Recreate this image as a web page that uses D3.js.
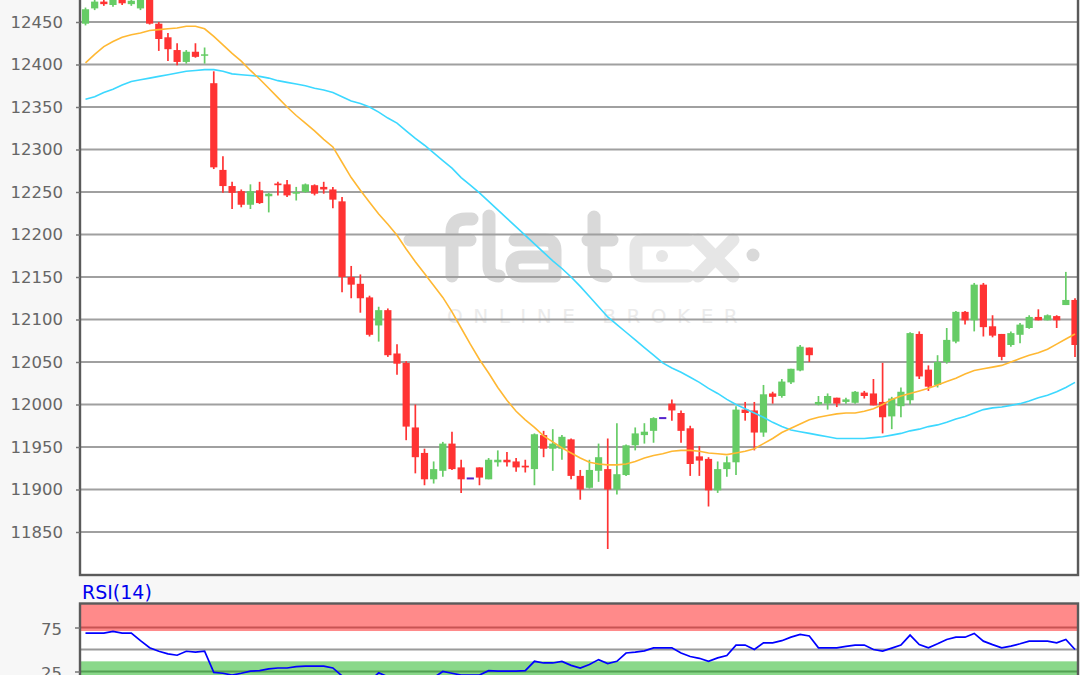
<!DOCTYPE html>
<html><head><meta charset="utf-8">
<script src="https://cdn.jsdelivr.net/npm/d3@7"></script>
<style>html,body{margin:0;padding:0;background:#f7f7f7;} svg{display:block;}</style>
</head><body><svg id="c" width="1080" height="675"></svg>
<script>
// ---- data ----
const open  = [12448,12466,12474,12470,12476,12471,12466,12480,12448,12432,12417,12403,12415,12411,12378,12276,12257,12251,12235,12252,12245,12260,12259,12248,12250,12258,12256,12253,12239,12150,12142,12126,12093,12111,12060,12049,11973,11943,11912,11922,11954,11926,11913,11926,11912,11932,11935,11933,11928,11924,11964,11948,11948,11959,11916,11902,11922,11924,11900,11917,11952,11964,11969,11984,12001,11990,11972,11939,11936,11899,11924,11932,11994,11993,11967,12013,12010,12026,12040,12067,12000,12001,12008,12003,12002,12014,12013,12003,11986,11998,12005,12083,12041,12023,12050,12074,12109,12099,12141,12092,12083,12070,12082,12090,12103,12099,12104,12117,12123];
const high  = [12467,12478,12478,12478,12478,12478,12478,12485,12450,12437,12425,12417,12425,12420,12392,12292,12262,12253,12259,12262,12249,12262,12264,12256,12260,12259,12262,12256,12244,12163,12153,12128,12115,12113,12071,12051,12000,11948,11933,11956,11968,11935,11913,11926,11937,11946,11944,11937,11935,11966,11969,11971,11964,11960,11923,11935,11954,11960,11978,11953,11973,11978,11985,11984,12006,11993,11975,11951,11938,11933,11939,11998,12003,12003,12023,12015,12030,12042,12070,12067,12010,12013,12008,12008,12016,12016,12030,12049,12009,12020,12085,12086,12046,12058,12090,12110,12110,12143,12143,12105,12083,12086,12096,12105,12112,12106,12105,12156,12125];
const low   = [12446,12464,12469,12468,12470,12469,12464,12447,12416,12404,12399,12401,12408,12401,12277,12249,12230,12232,12230,12236,12226,12246,12244,12240,12249,12246,12248,12231,12132,12125,12108,12080,12074,12056,12035,11958,11919,11905,11907,11915,11923,11896,11913,11905,11912,11927,11927,11921,11920,11905,11938,11922,11935,11912,11888,11901,11909,11830,11894,11916,11946,11954,11955,11984,11981,11955,11916,11916,11880,11896,11915,11917,11981,11946,11962,12001,12008,12024,12039,12050,11999,11994,11997,12001,12001,12007,11999,11966,11971,11985,12000,12030,12016,12020,12048,12072,12094,12086,12080,12079,12052,12068,12072,12089,12099,12099,12090,12117,12056];
const close = [12465,12474,12471,12476,12472,12475,12476,12448,12430,12418,12403,12415,12409,12412,12279,12257,12249,12235,12251,12237,12248,12258,12246,12250,12259,12248,12253,12241,12150,12141,12125,12082,12111,12058,12048,11974,11938,11912,11924,11954,11924,11912,11913,11914,11935,11935,11932,11926,11926,11965,11948,11954,11962,11916,11900,11923,11938,11900,11918,11952,11966,11968,11984,11984,11993,11969,11930,11934,11899,11924,11932,11994,11990,11967,12012,12009,12027,12042,12068,12058,12003,12010,12001,12006,12015,12010,11999,11985,12007,12015,12084,12033,12021,12050,12076,12109,12099,12141,12091,12081,12056,12084,12094,12103,12099,12105,12099,12123,12070];
const maFast = [12402,12412,12421,12427,12432,12435,12437,12440,12441,12442,12443,12445,12445,12442,12433,12423,12413,12404,12393,12383,12372,12361,12350,12340,12331,12322,12312,12303,12285,12267,12252,12238,12224,12212,12199,12183,12168,12154,12140,12126,12109,12090,12071,12053,12037,12020,12005,11992,11982,11973,11963,11956,11949,11943,11937,11932,11930,11929,11929,11930,11933,11937,11940,11942,11945,11946,11946,11945,11943,11942,11941,11943,11945,11948,11954,11960,11967,11972,11977,11982,11985,11987,11989,11990,11990,11992,11995,12000,12006,12010,12013,12016,12019,12023,12027,12031,12036,12040,12042,12044,12046,12050,12054,12058,12061,12065,12071,12077,12083];
const maSlow = [12359,12362,12367,12371,12376,12380,12382,12384,12386,12388,12390,12392,12393,12394,12394,12392,12389,12388,12387,12386,12384,12381,12379,12377,12375,12372,12370,12367,12362,12357,12354,12350,12344,12337,12331,12322,12313,12305,12296,12287,12278,12267,12258,12249,12239,12229,12219,12209,12199,12189,12179,12169,12160,12150,12139,12127,12115,12103,12094,12085,12076,12067,12058,12049,12043,12038,12032,12026,12019,12013,12006,12000,11995,11990,11985,11979,11974,11970,11968,11966,11964,11962,11960,11960,11960,11960,11961,11962,11964,11966,11969,11971,11974,11976,11979,11983,11986,11990,11994,11996,11997,11999,12001,12004,12008,12011,12015,12020,12026];
const rsi = [68.7,68.7,68.7,70.6,68.7,68.7,60,52,48,45,43.5,48,47,48,24,23,21,23,25.5,26,28,29,29,30.5,31,31,31,29,20,17,15,14,23.5,19,17,15,14,14,18,25,23,21,21,21,26,25.5,25.5,25.5,26,36.6,34.7,34.7,36.5,32,29,33,38.5,34,36.6,46,47,48.5,51.9,51.9,51.9,46,42,40,36.6,40.5,43.1,55,55,50,57.6,57.6,60,64,67.1,65.3,51.9,51.9,51.9,53.5,55,55,50,48.1,51.5,55,66.4,55.6,51.9,56.5,61.4,64,64,68.3,59.5,55.5,51.9,53.8,56.5,59.5,59.5,59.5,57.6,61.4,50];
const priceTicks = [11850,11900,11950,12000,12050,12100,12150,12200,12250,12300,12350,12400,12450];
const rsiGrid = [25,50,75];
const rsiTicks = [25,75];
const rsiBands = [{from:71,to:100,color:"#ff0000"},{from:0,to:32,color:"#00aa00"}];
const rsiLabel = "RSI(14)";

// ---- layout ----
const svg = d3.select("#c");
const L = 80, R = 1078, T = -20, B = 575;
const RT = 603.5, RB = 700;
const n = open.length;
const x = d3.scaleLinear().domain([0, n - 1]).range([85.5, 1075]);
const y = d3.scaleLinear().domain([11850, 12450]).range([532, 22]);
const ry = d3.scaleLinear().domain([25, 75]).range([671.5, 627.5]);
const UP = "#66cc66", DOWN = "#ff3333", DOJI = "#5522cc";
const FONT = "DejaVu Sans, sans-serif";

svg.append("rect").attr("width",1080).attr("height",675).attr("fill","#f7f7f7");
svg.append("defs").call(d => {
  d.append("clipPath").attr("id","pc").append("rect").attr("x",L).attr("y",T).attr("width",R-L).attr("height",B-T);
  d.append("clipPath").attr("id","rc").append("rect").attr("x",L).attr("y",RT).attr("width",R-L).attr("height",RB-RT);
});

// main plot background
svg.append("rect").attr("x",L).attr("y",T).attr("width",R-L).attr("height",B-T).attr("fill","#fff");

// watermark
const wm = svg.append("g").attr("fill","none").attr("stroke-linecap","round").attr("stroke-linejoin","round").attr("stroke-width",13);
const dark = "#d9d9d9", light = "#e6e6e6";
wm.append("path").attr("stroke",dark).attr("d","M410,240 H470");
wm.append("path").attr("stroke",dark).attr("d","M452,276 V232 Q452,219 466,219 H472");
wm.append("path").attr("stroke",dark).attr("d","M489,216 V266 Q489,276 499,276");
wm.append("path").attr("stroke",dark).attr("d","M515,240 H545 Q555,240 555,250 V276 H522 Q512,276 512,266 Q512,257 522,257 H555");
wm.append("path").attr("stroke",dark).attr("d","M594,217 V266 Q594,276 606,276 M588,240 H612");
wm.append("path").attr("stroke",light).attr("d","M688,240 H644 Q636,240 636,248 V268 Q636,276 644,276 H688");
wm.append("circle").attr("cx",662).attr("cy",256).attr("r",6).attr("fill",light).attr("stroke","none");
wm.append("path").attr("stroke",light).attr("d","M698,240 L733,276 M733,240 L698,276");
wm.append("circle").attr("cx",753).attr("cy",255).attr("r",6.5).attr("fill",dark).attr("stroke","none");
svg.append("text").attr("x",447).attr("y",323).attr("font-family",FONT).attr("font-size",20)
  .attr("letter-spacing","10.5px").attr("fill","#ebebeb").text("ONLINE BROKER");

// gridlines
svg.append("g").selectAll("line").data(priceTicks).join("line")
  .attr("x1",L).attr("x2",R).attr("y1",d=>y(d)).attr("y2",d=>y(d))
  .attr("stroke","#a0a0a0").attr("stroke-width",2);

// candles
const cg = svg.append("g").attr("clip-path","url(#pc)");
const data = d3.range(n).map(i => ({i, o:open[i], h:high[i], l:low[i], c:close[i]}));
const col = d => d.c > d.o ? UP : d.c < d.o ? DOWN : DOJI;
cg.selectAll("line.w").data(data.filter(d => d.h !== d.l)).join("line").attr("class","w")
  .attr("x1",d=>x(d.i)).attr("x2",d=>x(d.i)).attr("y1",d=>y(d.h)).attr("y2",d=>y(d.l))
  .attr("stroke",col).attr("stroke-width",1.7);
cg.selectAll("rect.b").data(data).join("rect").attr("class","b")
  .attr("x",d=>x(d.i)-3.6).attr("width",7.2)
  .attr("y",d=> d.c===d.o ? y(d.o)-1 : Math.min(y(d.o),y(d.c)))
  .attr("height",d=> d.c===d.o ? 2 : Math.max(1.5, Math.abs(y(d.o)-y(d.c))))
  .attr("fill",col);

// moving averages
const line = d3.line().x((d,i)=>x(i)).y(d=>y(d));
cg.append("path").attr("d",line(maSlow)).attr("fill","none").attr("stroke","#3cd8ff").attr("stroke-width",1.6);
cg.append("path").attr("d",line(maFast)).attr("fill","none").attr("stroke","#ffb833").attr("stroke-width",1.6);

// border
svg.append("rect").attr("x",L).attr("y",T).attr("width",R-L).attr("height",B-T)
  .attr("fill","none").attr("stroke","#5a5a5a").attr("stroke-width",2.4);

// price axis
const ax = svg.append("g").attr("transform",`translate(${L},0)`)
  .call(d3.axisLeft(y).tickValues(priceTicks).tickSize(4).tickPadding(13).tickFormat(d3.format("d")));
ax.select(".domain").remove();
ax.selectAll(".tick line").attr("stroke","#777").attr("stroke-width",1.5);
ax.selectAll(".tick text").attr("font-family",FONT).attr("font-size",16.5).attr("fill","#666");

// RSI panel
svg.append("rect").attr("x",L).attr("y",RT).attr("width",R-L).attr("height",RB-RT).attr("fill","#fff");
const rg = svg.append("g").attr("clip-path","url(#rc)");
rg.selectAll("line").data(rsiGrid).join("line")
  .attr("x1",L).attr("x2",R).attr("y1",d=>ry(d)).attr("y2",d=>ry(d))
  .attr("stroke","#9a9a9a").attr("stroke-width",2);
rg.selectAll("rect").data(rsiBands).join("rect")
  .attr("x",L).attr("width",R-L).attr("y",d=>ry(d.to)-4).attr("height",d=>ry(d.from)-ry(d.to)+4)
  .attr("fill",d=>d.color).attr("fill-opacity",0.46);
rg.append("path").attr("d",d3.line().x((d,i)=>x(i)).y(d=>ry(d))(rsi))
  .attr("fill","none").attr("stroke","#0000ff").attr("stroke-width",1.7);
svg.append("rect").attr("x",L).attr("y",RT).attr("width",R-L).attr("height",RB-RT)
  .attr("fill","none").attr("stroke","#5a5a5a").attr("stroke-width",2.4);
const rax = svg.append("g").attr("transform",`translate(${L},0)`)
  .call(d3.axisLeft(ry).tickValues(rsiTicks).tickSize(5).tickPadding(13).tickFormat(d3.format("d")));
rax.select(".domain").remove();
rax.selectAll(".tick line").attr("stroke","#777").attr("stroke-width",1.5);
rax.selectAll(".tick text").attr("font-family",FONT).attr("font-size",16.5).attr("fill","#666").attr("dy","0.45em");
svg.append("text").attr("x",82).attr("y",599).attr("font-family",FONT).attr("font-size",19)
  .attr("fill","#0000ee").text(rsiLabel);
</script></body></html>
